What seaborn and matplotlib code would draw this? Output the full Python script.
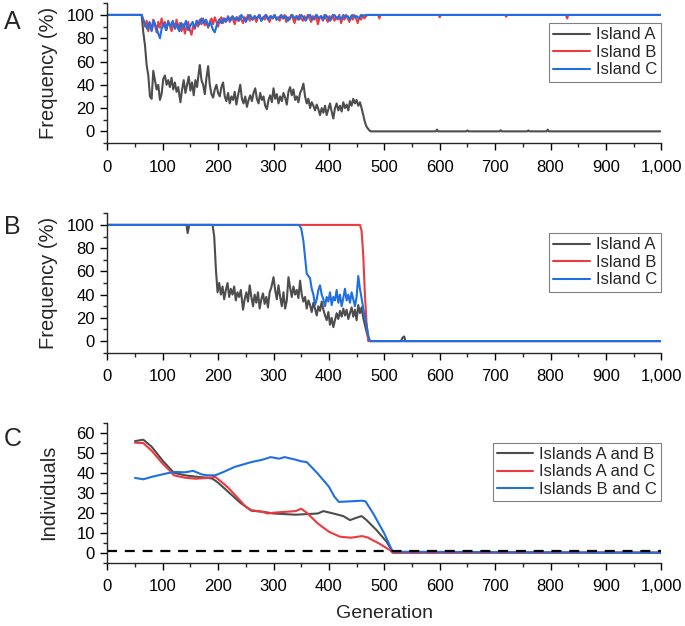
import matplotlib

matplotlib.use("Agg")
import matplotlib.pyplot as plt
import seaborn as sns
from matplotlib.ticker import FuncFormatter, MultipleLocator

# ---- Panel A: allele frequency per island (%) ----
a_gen_island_a = [0, 62, 65, 68, 71, 74, 77, 80, 83, 86, 89, 92, 95, 98, 101, 104, 107, 110,
                  113, 116, 119, 122, 125, 128, 132, 135, 138, 141, 144, 147, 150, 153, 156,
                  159, 162, 165, 167, 170, 173, 176, 179, 182, 185, 188, 191, 194, 197, 200,
                  203, 206, 209, 212, 215, 218, 221, 224, 227, 230, 233, 236, 240, 243, 246,
                  249, 252, 255, 258, 261, 264, 267, 270, 273, 276, 279, 282, 285, 288, 291,
                  294, 297, 300, 303, 306, 309, 312, 315, 318, 321, 324, 327, 330, 333, 336,
                  339, 342, 345, 348, 351, 354, 357, 360, 363, 366, 369, 372, 375, 378, 381,
                  384, 387, 390, 393, 396, 399, 402, 405, 408, 411, 414, 417, 420, 423, 426,
                  429, 432, 435, 438, 441, 444, 447, 450, 453, 456, 459, 462, 465, 468, 471,
                  475, 593, 595, 597, 648, 650, 652, 708, 710, 712, 758, 760, 762, 793, 795,
                  797, 1000]
a_val_island_a = [100, 100, 85, 74, 57, 48, 30, 28, 52, 44, 36, 40, 27, 32, 45, 48, 40, 44,
                  38, 46, 36, 42, 34, 38, 25, 36, 44, 33, 40, 47, 35, 42, 31,
                  44, 38, 50, 57, 44, 40, 32, 46, 56, 40, 32, 29, 36, 40, 33,
                  30, 38, 42, 30, 26, 33, 24, 30, 27, 34, 23, 31, 40, 28, 24,
                  30, 21, 27, 31, 26, 33, 37, 28, 24, 33, 27, 30, 22, 19, 27,
                  31, 25, 37, 28, 32, 24, 30, 26, 33, 29, 23, 34, 38, 31, 36,
                  27, 30, 25, 33, 36, 41, 30, 24, 28, 20, 25, 22, 18, 23, 19,
                  14, 20, 16, 22, 14, 19, 24, 17, 11, 20, 24, 18, 22, 17, 25,
                  20, 23, 18, 26, 22, 28, 24, 27, 22, 25, 20, 14, 8, 4, 2,
                  0, 0, 1.5, 0, 0, 0.8, 0, 0, 1, 0, 0, 0.8, 0, 0, 1.5,
                  0, 0]

a_gen_island_b = [0, 62, 65, 68, 71, 74, 77, 80, 83, 86, 89, 92, 95, 98, 101, 104, 107, 110,
                  113, 116, 119, 122, 125, 128, 131, 134, 137, 140, 143, 146, 149, 152, 155,
                  158, 161, 164, 167, 170, 173, 176, 179, 182, 185, 188, 191, 194, 197, 200,
                  203, 206, 209, 212, 215, 218, 221, 224, 227, 230, 233, 236, 239, 242, 245,
                  248, 251, 254, 257, 260, 263, 266, 269, 272, 275, 278, 281, 284, 287, 290,
                  293, 296, 299, 302, 305, 308, 311, 314, 317, 320, 323, 326, 329, 332, 335,
                  338, 341, 344, 347, 350, 353, 356, 359, 362, 365, 368, 371, 374, 377, 380,
                  383, 386, 389, 392, 395, 398, 401, 404, 407, 410, 413, 416, 419, 422, 425,
                  428, 431, 434, 437, 440, 443, 446, 449, 452, 455, 458, 461, 464, 467, 470,
                  489, 491, 493, 598, 600, 602, 718, 720, 722, 828, 830, 832, 1000]
a_val_island_b = [100, 100, 96, 90, 95, 86, 93, 88, 96, 91, 85, 94, 89, 97, 90, 94, 87, 95,
                  91, 86, 93, 90, 96, 88, 93, 86, 92, 84, 90, 94, 87, 83, 91,
                  88, 95, 90, 96, 92, 97, 91, 95, 89, 94, 97, 92, 98, 94, 90,
                  96, 98, 93, 97, 95, 99, 94, 98, 96, 92, 98, 95, 99, 96, 93,
                  98, 96, 100, 95, 98, 96, 99, 94, 98, 100, 95, 98, 96, 100, 97,
                  94, 99, 97, 100, 96, 98, 95, 99, 97, 100, 94, 98, 96, 100, 97,
                  93, 99, 96, 100, 97, 95, 99, 96, 100, 97, 94, 99, 96, 100, 92,
                  97, 99, 95, 100, 97, 94, 99, 96, 100, 95, 98, 96, 100, 93, 98,
                  96, 100, 97, 94, 99, 96, 100, 97, 93, 98, 96, 100, 97, 99, 100,
                  100, 97, 100, 100, 98, 100, 100, 98.5, 100, 100, 97, 100, 100]

a_gen_island_c = [0, 62, 64, 68, 72, 76, 80, 84, 88, 92, 95, 98, 102, 106, 110, 114, 118, 122,
                  126, 130, 134, 138, 142, 146, 150, 154, 158, 162, 166, 170, 174, 178, 182,
                  186, 190, 194, 198, 202, 206, 210, 214, 218, 222, 226, 230, 234, 238, 242,
                  246, 250, 254, 258, 262, 266, 270, 274, 278, 282, 286, 290, 294, 298, 302,
                  306, 310, 314, 318, 322, 326, 330, 334, 338, 342, 346, 350, 354, 358, 362,
                  366, 370, 374, 378, 382, 386, 390, 394, 398, 402, 406, 410, 414, 418, 422,
                  426, 430, 434, 438, 442, 446, 450, 454, 458, 462, 466, 1000]
a_val_island_c = [100, 100, 97, 92, 88, 94, 86, 95, 90, 84, 80, 88, 93, 87, 94, 90, 95, 88,
                  92, 86, 93, 89, 95, 87, 91, 94, 89, 95, 92, 97, 93, 96, 90,
                  94, 88, 85, 92, 96, 93, 97, 94, 98, 95, 99, 96, 98, 95, 100,
                  97, 94, 98, 100, 96, 99, 97, 100, 95, 98, 100, 96, 99, 97, 100,
                  96, 98, 100, 97, 99, 95, 98, 100, 97, 99, 96, 100, 98, 95, 99,
                  100, 96, 98, 100, 97, 99, 96, 100, 98, 95, 99, 100, 97, 99, 96,
                  100, 98, 99, 96, 100, 98, 99, 97, 100, 99, 100, 100]

# ---- Panel B ----
b_gen_island_a = [0, 143, 145, 148, 190, 193, 196, 199, 202, 205, 208, 211, 214, 217, 220,
                  223, 226, 229, 232, 235, 238, 241, 245, 248, 251, 254, 257, 260, 263, 266,
                  269, 272, 275, 278, 281, 284, 287, 290, 293, 296, 300, 303, 306, 309, 312,
                  315, 318, 321, 324, 327, 330, 333, 336, 339, 342, 345, 348, 351, 354, 357,
                  360, 363, 366, 369, 372, 375, 378, 381, 384, 387, 390, 393, 396, 399, 402,
                  405, 408, 411, 414, 417, 420, 423, 426, 429, 432, 435, 438, 441, 444, 447,
                  450, 453, 456, 459, 462, 465, 468, 471, 474, 530, 533, 536, 538, 1000]
b_val_island_a = [100, 100, 93, 100, 100, 90, 62, 42, 50, 40, 47, 36, 44, 50, 38,
                  45, 40, 47, 35, 42, 38, 44, 27, 36, 42, 34, 48, 38, 30, 40,
                  33, 42, 28, 36, 41, 32, 38, 29, 42, 46, 55, 44, 36, 48, 38,
                  30, 42, 28, 35, 55, 46, 38, 47, 40, 44, 37, 52, 40, 34, 38,
                  28, 35, 31, 25, 33, 28, 22, 30, 26, 34, 27, 22, 18, 25, 14,
                  20, 12, 18, 24, 19, 26, 21, 28, 22, 27, 19, 24, 29, 21, 27,
                  18, 31, 24, 29, 20, 14, 8, 3, 0, 0, 3, 4, 0, 0]

b_gen_island_b = [0, 456, 459, 462, 465, 468, 471, 1000]
b_val_island_b = [100, 100, 95, 74, 40, 15, 0, 0]

b_gen_island_c = [0, 346, 350, 354, 357, 360, 363, 366, 369, 372, 375, 378, 381, 384, 387,
                  390, 393, 396, 399, 402, 405, 408, 411, 414, 417, 420, 423, 426, 429, 432,
                  435, 438, 441, 444, 447, 450, 453, 456, 459, 462, 465, 468, 471, 474, 1000]
b_val_island_c = [100, 100, 97, 86, 72, 58, 56, 54, 45, 40, 31, 36, 44, 48, 40,
                  36, 30, 38, 34, 42, 31, 38, 35, 44, 33, 40, 30, 37, 45, 35,
                  40, 33, 42, 36, 30, 38, 56, 45, 37, 28, 20, 14, 5, 0, 0]

# ---- Panel C: shared individuals between island pairs ----
c_gen_ab = [50, 65, 80, 100, 120, 140, 160, 180, 190, 200, 220, 240, 250, 260, 280, 300,
            320, 340, 360, 380, 390, 408, 426, 438, 450, 459, 468, 486, 504, 516, 1000]
c_val_ab = [55.8, 56.5, 53, 46, 40, 38.7, 38, 37.5, 37, 35, 30, 25, 23, 21, 20.5, 19.6,
            19.3, 19, 19.3, 19.6, 20.8, 19.6, 18.3, 16.3, 17.5, 18.3, 16.3, 11.3, 5.5, 0, 0]

c_gen_ac = [50, 65, 80, 100, 115, 120, 140, 160, 180, 195, 210, 220, 240, 250, 260, 280,
            290, 300, 320, 340, 350, 360, 380, 400, 420, 440, 460, 470, 490, 510, 515, 1000]
c_val_ac = [55, 54.8, 51, 44.5, 40.4, 38.7, 37.5, 37, 37.4, 37.9, 34.5, 32, 26, 23, 21.3,
            20.4, 19.6, 20, 20.4, 20.8, 22, 20, 14.6, 10.5, 8, 7.5, 8.3, 7.6, 4.7, 1.3, 0, 0]

c_gen_bc = [50, 65, 80, 100, 120, 140, 155, 170, 180, 195, 210, 230, 260, 280, 295, 310,
            320, 340, 350, 360, 380, 400, 410, 418, 440, 460, 466, 480, 500, 515, 1000]
c_val_bc = [37.4, 36.7, 37.9, 39.2, 40.4, 40.2, 40.9, 39.2, 38.7, 38.7, 40.4, 42.9, 45.3,
            46.5, 47.8, 47, 47.8, 46.5, 45.7, 45.3, 39.5, 33, 28, 25.4, 25.7, 26, 25.7,
            19.6, 9.6, 0.5, 0]

threshold_gen = [0, 1000]
threshold_val = [1, 1]

freq_labels = ["Island A", "Island B", "Island C"]
pair_labels = ["Islands A and B", "Islands A and C", "Islands B and C"]
colors = ["#4D4D4D", "#EE3A3F", "#1F6FE2"]

sns.set_style("ticks")
plt.rcParams["font.family"] = ["Liberation Sans", "DejaVu Sans"]
plt.rcParams["axes.linewidth"] = 1.0

fig = plt.figure(figsize=(6.85, 6.26), dpi=100)
W, H = 685, 626


def add_panel(top_px, bottom_px):
    left, right = 107.3, 661.3
    return fig.add_axes([left / W, 1 - bottom_px / H, (right - left) / W, (bottom_px - top_px) / H])


def style_axis(ax, ylabel, ymin, ymax, ymajor, yminor):
    ax.set_xlim(0, 1000)
    ax.set_ylim(ymin, ymax)
    ax.xaxis.set_major_locator(MultipleLocator(100))
    ax.xaxis.set_minor_locator(MultipleLocator(50))
    ax.yaxis.set_major_locator(MultipleLocator(ymajor))
    ax.yaxis.set_minor_locator(MultipleLocator(yminor))
    ax.xaxis.set_major_formatter(FuncFormatter(lambda v, _: f"{v:,.0f}"))
    ax.set_yticks([t for t in ax.get_yticks() if 0 <= t <= ymax - yminor])
    ax.tick_params(which="major", direction="out", length=5, width=1, labelsize=12, colors="black")
    ax.tick_params(axis="x", which="major", pad=7)
    ax.tick_params(axis="y", which="major", pad=4)
    ax.tick_params(which="minor", direction="out", length=3, width=1)
    sns.despine(ax=ax)
    ax.set_xlabel("")
    ax.set_ylabel(ylabel, fontsize=14.5)
    ax.yaxis.set_label_coords(-0.089, 0.5)


def add_legend(ax, ax_height_px):
    ax.legend(loc="upper right", bbox_to_anchor=(1.0, 1 - 20 / ax_height_px), borderaxespad=0,
              fontsize=12, frameon=True, fancybox=False, edgecolor="#808080", framealpha=1,
              handlelength=2.2, handletextpad=0.35, labelspacing=0.15, borderpad=0.25)
    ax.get_legend().get_frame().set_linewidth(0.8)


lw = 1.5

# Panel A
ax_a = add_panel(3.3, 143.0)
for gens, vals, lab, col in zip([a_gen_island_a, a_gen_island_b, a_gen_island_c],
                                [a_val_island_a, a_val_island_b, a_val_island_c],
                                freq_labels, colors):
    sns.lineplot(x=gens, y=vals, ax=ax_a, color=col, label=lab, linewidth=lw, errorbar=None)
style_axis(ax_a, "Frequency (%)", -10, 110, 20, 10)
add_legend(ax_a, 139.7)

# Panel B
ax_b = add_panel(213.3, 352.7)
for gens, vals, lab, col in zip([b_gen_island_a, b_gen_island_b, b_gen_island_c],
                                [b_val_island_a, b_val_island_b, b_val_island_c],
                                freq_labels, colors):
    sns.lineplot(x=gens, y=vals, ax=ax_b, color=col, label=lab, linewidth=lw, errorbar=None)
style_axis(ax_b, "Frequency (%)", -10, 110, 20, 10)
add_legend(ax_b, 139.4)

# Panel C
ax_c = add_panel(422.7, 562.7)
for gens, vals, lab, col in zip([c_gen_ab, c_gen_ac, c_gen_bc],
                                [c_val_ab, c_val_ac, c_val_bc],
                                pair_labels, colors):
    sns.lineplot(x=gens, y=vals, ax=ax_c, color=col, label=lab, linewidth=lw, errorbar=None)
sns.lineplot(x=threshold_gen, y=threshold_val, ax=ax_c, color="black", linewidth=1.6,
             linestyle=(0, (4.5, 3.5)), errorbar=None)
style_axis(ax_c, "Individuals", -5, 65, 10, 5)
ax_c.set_xlabel("Generation", fontsize=14, labelpad=8)
add_legend(ax_c, 140.0)

for label, y_px in zip(["A", "B", "C"], [22, 227, 439]):
    fig.text(4 / W, 1 - y_px / H, label, fontsize=18, ha="left", va="center")

fig.savefig("out.png", dpi=100)
